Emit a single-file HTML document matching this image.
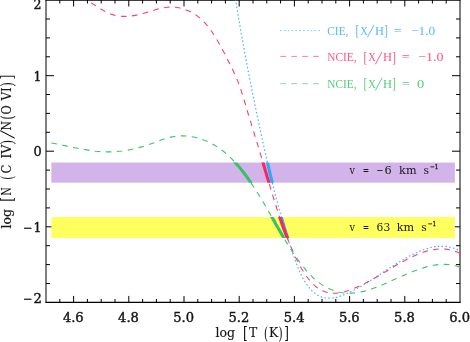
<!DOCTYPE html>
<html><head><meta charset="utf-8"><title>log N(C IV)/N(O VI) vs log T</title>
<style>
html,body{margin:0;padding:0;background:#fff;}
body{width:470px;height:342px;overflow:hidden;}
svg{display:block;}
text{font-family:"DejaVu Serif","Liberation Serif",serif;font-size:12.4px;}
.tk text{stroke:#161616;stroke-width:0.4px;}
.lb text{font-size:12.6px;stroke:#161616;stroke-width:0.15px;}
.lg text{font-family:"Liberation Serif","DejaVu Serif",serif;font-size:12.8px;}
.bd text{font-size:11.2px;}
</style></head><body>
<svg width="470" height="342" viewBox="0 0 470 342" fill="#161616">
<defs>
<clipPath id="plot"><rect x="46" y="0" width="414" height="302"/></clipPath>
<clipPath id="bands"><rect x="46" y="162.55" width="414" height="20.15"/><rect x="46" y="217.05" width="414" height="20.9"/></clipPath>
<path id="cb" d="M235.4,-1.0 L235.9,2.0 L236.4,4.9 L236.9,7.9 L237.4,10.8 L237.9,13.8 L238.4,16.7 L238.9,19.7 L239.4,22.7 L239.9,25.6 L240.4,28.6 L240.9,31.5 L241.4,34.5 L242.0,37.4 L242.5,40.4 L243.0,43.3 L243.6,46.3 L244.1,49.2 L244.6,52.2 L245.2,55.1 L245.7,58.0 L246.3,61.0 L246.8,63.9 L247.4,66.9 L248.0,69.8 L248.5,72.8 L249.1,75.7 L249.7,78.6 L250.3,81.6 L250.8,84.5 L251.4,87.4 L252.0,90.4 L252.6,93.3 L253.2,96.3 L253.8,99.2 L254.4,102.1 L255.0,105.1 L255.6,108.0 L256.2,110.9 L256.8,113.9 L257.4,116.8 L258.1,119.7 L258.7,122.6 L259.3,125.6 L259.9,128.5 L260.6,131.4 L261.2,134.4 L261.9,137.3 L262.5,140.2 L263.1,143.1 L263.8,146.1 L264.4,149.0 L265.1,151.9 L265.8,154.8 L266.4,157.8 L267.1,160.7 L267.8,163.6 L268.4,166.5 L269.1,169.5 L269.8,172.4 L270.5,175.3 L271.2,178.2 L271.9,181.1 L272.6,184.0 L273.3,187.0 L274.1,189.9 L274.8,192.8 L275.5,195.7 L276.3,198.6 L277.1,201.5 L277.8,204.4 L278.6,207.3 L279.4,210.2 L280.2,213.0 L281.0,215.9 L281.8,218.8 L282.6,221.7 L283.5,224.5 L284.3,227.4 L285.2,230.3 L286.1,233.1 L287.0,236.0 L287.9,238.8 L288.8,241.7 L289.7,244.5 L290.7,247.4 L291.6,250.2 L292.6,253.0 L293.6,255.9 L294.6,258.7 L295.6,261.5 L296.6,264.3 L297.7,267.1 L298.9,269.8 L300.1,272.6 L301.4,275.3 L302.8,278.0 L304.3,280.7 L305.9,283.3 L307.7,285.8 L309.6,288.2 L311.7,290.5 L313.9,292.5 L316.2,294.3 L318.7,295.8 L321.3,296.9 L324.1,297.7 L326.9,298.1 L329.8,298.2 L332.8,298.0 L335.7,297.5 L338.6,296.7 L341.5,295.7 L344.3,294.6 L347.1,293.4 L349.9,292.1 L352.6,290.8 L355.3,289.4 L358.0,287.9 L360.6,286.5 L363.2,285.0 L365.7,283.4 L368.3,281.9 L370.8,280.3 L373.3,278.7 L375.8,277.1 L378.3,275.5 L380.8,273.8 L383.3,272.2 L385.7,270.5 L388.2,268.9 L390.7,267.3 L393.2,265.7 L395.8,264.1 L398.3,262.5 L400.9,261.0 L403.5,259.4 L406.1,258.0 L408.7,256.5 L411.4,255.1 L414.1,253.8 L416.9,252.5 L419.7,251.3 L422.5,250.2 L425.3,249.1 L428.1,248.3 L431.0,247.5 L433.9,246.9 L436.8,246.5 L439.7,246.3 L442.6,246.3 L445.6,246.4 L448.5,246.9 L451.4,247.5 L454.4,248.4 L457.3,249.6 L460.2,251.1"/>
<path id="cr" d="M86.1,-1.0 L88.4,0.7 L90.8,2.4 L93.2,4.1 L95.7,5.8 L98.3,7.5 L100.8,9.1 L103.5,10.6 L106.2,12.0 L108.9,13.3 L111.7,14.4 L114.5,15.2 L117.3,15.9 L120.2,16.3 L123.1,16.4 L126.1,16.4 L129.0,16.3 L132.0,15.9 L135.0,15.4 L137.9,14.8 L140.9,14.1 L143.8,13.3 L146.8,12.4 L149.7,11.5 L152.6,10.6 L155.5,9.7 L158.4,8.9 L161.3,8.2 L164.2,7.7 L167.2,7.3 L170.1,7.1 L173.0,7.1 L176.0,7.3 L178.9,7.8 L181.8,8.5 L184.6,9.3 L187.4,10.4 L190.2,11.6 L192.8,13.0 L195.3,14.6 L197.8,16.4 L200.1,18.2 L202.3,20.2 L204.4,22.4 L206.4,24.6 L208.3,26.9 L210.1,29.3 L211.9,31.8 L213.5,34.3 L215.2,36.8 L216.7,39.4 L218.2,42.0 L219.7,44.6 L221.2,47.2 L222.6,49.9 L224.0,52.5 L225.4,55.1 L226.7,57.8 L228.0,60.4 L229.4,63.1 L230.7,65.7 L232.0,68.4 L233.3,71.1 L234.6,73.9 L235.8,76.6 L237.0,79.4 L238.2,82.1 L239.2,84.9 L240.2,87.8 L241.2,90.6 L242.1,93.4 L243.0,96.3 L243.9,99.2 L244.7,102.0 L245.6,104.9 L246.4,107.8 L247.3,110.6 L248.1,113.5 L249.0,116.3 L249.9,119.2 L250.8,122.1 L251.6,124.9 L252.5,127.8 L253.4,130.6 L254.2,133.5 L255.1,136.3 L256.0,139.2 L256.9,142.1 L257.7,144.9 L258.6,147.8 L259.5,150.7 L260.3,153.5 L261.2,156.4 L262.0,159.3 L262.9,162.1 L263.7,165.0 L264.6,167.9 L265.4,170.7 L266.3,173.6 L267.1,176.5 L268.0,179.4 L268.8,182.3 L269.7,185.1 L270.5,188.0 L271.4,190.9 L272.3,193.7 L273.1,196.6 L274.0,199.5 L274.9,202.3 L275.8,205.2 L276.7,208.0 L277.6,210.9 L278.6,213.7 L279.5,216.6 L280.5,219.4 L281.4,222.2 L282.4,225.1 L283.4,227.9 L284.5,230.7 L285.5,233.5 L286.6,236.2 L287.7,239.0 L288.8,241.8 L289.9,244.5 L291.1,247.3 L292.3,250.0 L293.5,252.8 L294.7,255.5 L296.0,258.2 L297.3,260.8 L298.7,263.5 L300.1,266.1 L301.6,268.7 L303.2,271.3 L304.8,273.8 L306.5,276.3 L308.3,278.7 L310.2,281.0 L312.2,283.3 L314.4,285.4 L316.7,287.3 L319.2,289.0 L321.8,290.5 L324.5,291.6 L327.3,292.5 L330.2,293.1 L333.1,293.3 L336.0,293.2 L338.9,292.9 L341.8,292.4 L344.8,291.7 L347.7,290.8 L350.6,289.8 L353.4,288.7 L356.2,287.5 L359.0,286.3 L361.7,285.0 L364.4,283.7 L367.1,282.3 L369.7,280.9 L372.3,279.4 L374.9,278.0 L377.5,276.5 L380.0,275.0 L382.6,273.5 L385.1,271.9 L387.7,270.4 L390.2,268.9 L392.8,267.4 L395.3,265.8 L397.9,264.3 L400.5,262.9 L403.1,261.4 L405.8,260.0 L408.5,258.6 L411.2,257.3 L413.9,256.0 L416.7,254.7 L419.5,253.6 L422.3,252.6 L425.1,251.6 L428.0,250.8 L430.9,250.1 L433.8,249.6 L436.7,249.2 L439.6,249.0 L442.6,249.0 L445.5,249.1 L448.4,249.5 L451.4,250.1 L454.3,251.0 L457.3,252.1 L460.2,253.5"/>
<path id="cg" d="M51.4,143.0 L54.3,143.5 L57.1,144.1 L60.0,144.7 L62.9,145.3 L65.9,145.9 L68.8,146.5 L71.7,147.1 L74.7,147.7 L77.7,148.3 L80.6,148.9 L83.6,149.4 L86.6,149.9 L89.6,150.4 L92.5,150.8 L95.5,151.2 L98.5,151.5 L101.5,151.7 L104.5,151.8 L107.5,151.9 L110.4,151.9 L113.4,151.8 L116.4,151.6 L119.3,151.3 L122.3,151.0 L125.3,150.6 L128.2,150.1 L131.1,149.5 L134.0,148.9 L136.9,148.2 L139.8,147.4 L142.7,146.6 L145.6,145.7 L148.4,144.7 L151.3,143.7 L154.1,142.7 L156.9,141.6 L159.7,140.6 L162.5,139.5 L165.4,138.6 L168.3,137.8 L171.1,137.1 L174.1,136.5 L177.0,136.1 L180.0,135.9 L183.0,135.8 L186.0,136.0 L189.0,136.3 L192.0,136.7 L195.0,137.3 L197.9,138.0 L200.8,138.9 L203.6,139.9 L206.4,141.0 L209.1,142.3 L211.7,143.6 L214.3,145.1 L216.8,146.6 L219.3,148.3 L221.6,150.0 L224.0,151.8 L226.2,153.7 L228.5,155.7 L230.6,157.7 L232.7,159.8 L234.8,162.0 L236.8,164.3 L238.8,166.5 L240.7,168.9 L242.6,171.2 L244.5,173.7 L246.3,176.1 L248.1,178.6 L249.8,181.1 L251.5,183.6 L253.2,186.2 L254.9,188.7 L256.5,191.3 L258.1,193.8 L259.7,196.4 L261.2,198.9 L262.8,201.5 L264.3,204.0 L265.8,206.5 L267.3,209.1 L268.7,211.6 L270.2,214.1 L271.7,216.7 L273.1,219.2 L274.6,221.8 L276.0,224.4 L277.5,227.0 L279.0,229.6 L280.5,232.2 L282.0,234.8 L283.5,237.4 L285.0,240.0 L286.6,242.6 L288.2,245.1 L289.8,247.7 L291.4,250.2 L293.0,252.7 L294.7,255.1 L296.4,257.6 L298.2,260.0 L299.9,262.5 L301.7,264.9 L303.6,267.2 L305.5,269.6 L307.5,271.8 L309.5,274.1 L311.6,276.2 L313.7,278.3 L316.0,280.3 L318.3,282.2 L320.7,283.9 L323.2,285.6 L325.8,287.1 L328.5,288.4 L331.2,289.6 L334.0,290.7 L336.8,291.6 L339.7,292.3 L342.6,292.8 L345.6,293.1 L348.5,293.2 L351.5,293.1 L354.5,292.9 L357.5,292.5 L360.5,292.0 L363.4,291.4 L366.3,290.6 L369.2,289.8 L372.1,288.8 L374.9,287.8 L377.7,286.8 L380.5,285.6 L383.2,284.5 L386.0,283.3 L388.7,282.0 L391.4,280.8 L394.1,279.6 L396.9,278.3 L399.6,277.1 L402.3,275.9 L405.1,274.7 L407.8,273.6 L410.6,272.4 L413.4,271.3 L416.2,270.3 L419.0,269.2 L421.9,268.3 L424.8,267.4 L427.6,266.6 L430.6,265.9 L433.5,265.3 L436.4,264.9 L439.3,264.5 L442.3,264.4 L445.3,264.4 L448.2,264.5 L451.2,264.9 L454.2,265.4 L457.1,266.2 L460.1,267.1"/>
</defs>
<rect width="470" height="342" fill="#fff"/>
<g fill="none" stroke="#000">
<path d="M46,0 V302.9 M460,0 V302.9" stroke-width="1"/>
<path d="M45.5,0.1 H460.5 M45.5,302.35 H460.5" stroke-width="1.25"/>
<path d="M59.8,302.35 v-3.4 M59.8,0.1 v3.4 M73.6,302.35 v-6.4 M73.6,0.1 v6.4 M87.4,302.35 v-3.4 M87.4,0.1 v3.4 M101.2,302.35 v-3.4 M101.2,0.1 v3.4 M115.0,302.35 v-3.4 M115.0,0.1 v3.4 M128.8,302.35 v-6.4 M128.8,0.1 v6.4 M142.6,302.35 v-3.4 M142.6,0.1 v3.4 M156.4,302.35 v-3.4 M156.4,0.1 v3.4 M170.2,302.35 v-3.4 M170.2,0.1 v3.4 M184.0,302.35 v-6.4 M184.0,0.1 v6.4 M197.8,302.35 v-3.4 M197.8,0.1 v3.4 M211.6,302.35 v-3.4 M211.6,0.1 v3.4 M225.4,302.35 v-3.4 M225.4,0.1 v3.4 M239.2,302.35 v-6.4 M239.2,0.1 v6.4 M253.0,302.35 v-3.4 M253.0,0.1 v3.4 M266.8,302.35 v-3.4 M266.8,0.1 v3.4 M280.6,302.35 v-3.4 M280.6,0.1 v3.4 M294.4,302.35 v-6.4 M294.4,0.1 v6.4 M308.2,302.35 v-3.4 M308.2,0.1 v3.4 M322.0,302.35 v-3.4 M322.0,0.1 v3.4 M335.8,302.35 v-3.4 M335.8,0.1 v3.4 M349.6,302.35 v-6.4 M349.6,0.1 v6.4 M363.4,302.35 v-3.4 M363.4,0.1 v3.4 M377.2,302.35 v-3.4 M377.2,0.1 v3.4 M391.0,302.35 v-3.4 M391.0,0.1 v3.4 M404.8,302.35 v-6.4 M404.8,0.1 v6.4 M418.6,302.35 v-3.4 M418.6,0.1 v3.4 M432.4,302.35 v-3.4 M432.4,0.1 v3.4 M446.2,302.35 v-3.4 M446.2,0.1 v3.4 M46.0,19.0 h4 M460.0,19.0 h-4 M46.0,37.9 h4 M460.0,37.9 h-4 M46.0,56.8 h4 M460.0,56.8 h-4 M46.0,75.7 h8 M460.0,75.7 h-8 M46.0,94.5 h4 M460.0,94.5 h-4 M46.0,113.4 h4 M460.0,113.4 h-4 M46.0,132.3 h4 M460.0,132.3 h-4 M46.0,151.2 h8 M460.0,151.2 h-8 M46.0,170.1 h4 M460.0,170.1 h-4 M46.0,189.0 h4 M460.0,189.0 h-4 M46.0,207.9 h4 M460.0,207.9 h-4 M46.0,226.8 h8 M460.0,226.8 h-8 M46.0,245.7 h4 M460.0,245.7 h-4 M46.0,264.6 h4 M460.0,264.6 h-4 M46.0,283.5 h4 M460.0,283.5 h-4" stroke-width="1"/>
</g>
<rect x="51.35" y="162.55" width="403.5" height="20.15" fill="#d3b4ea"/>
<rect x="51.35" y="217.05" width="403.5" height="20.9" fill="#ffff5e"/>
<g clip-path="url(#plot)" fill="none">
<use href="#cb" stroke="#3fb0ff" stroke-width="1.15" stroke-dasharray="1.5 2.33"/>
<use href="#cr" stroke="#ff3b6e" stroke-width="1.1" stroke-dasharray="5.65 5.38" stroke-dashoffset="4.75"/>
<use href="#cg" stroke="#3fc468" stroke-width="1.1" stroke-dasharray="5.65 5.38"/>
</g>
<g clip-path="url(#bands)" fill="none" stroke-width="3.1">
<use href="#cb" stroke="#2fa6fb"/>
<use href="#cr" stroke="#f5285f"/>
<use href="#cg" stroke="#35c263"/>
</g>
<g class="tk"><text x="62.9" y="321.5" textLength="20.8" lengthAdjust="spacingAndGlyphs">4.6</text><text x="118.1" y="321.5" textLength="20.8" lengthAdjust="spacingAndGlyphs">4.8</text><text x="173.3" y="321.5" textLength="20.8" lengthAdjust="spacingAndGlyphs">5.0</text><text x="228.5" y="321.5" textLength="20.8" lengthAdjust="spacingAndGlyphs">5.2</text><text x="283.7" y="321.5" textLength="20.8" lengthAdjust="spacingAndGlyphs">5.4</text><text x="338.9" y="321.5" textLength="20.8" lengthAdjust="spacingAndGlyphs">5.6</text><text x="394.1" y="321.5" textLength="20.8" lengthAdjust="spacingAndGlyphs">5.8</text><text x="449.3" y="321.5" textLength="20.8" lengthAdjust="spacingAndGlyphs">6.0</text><text x="33.6" y="9.1" textLength="8.0" lengthAdjust="spacingAndGlyphs">2</text><text x="33.6" y="80.8" textLength="8.0" lengthAdjust="spacingAndGlyphs">1</text><text x="33.4" y="156.3" textLength="8.2" lengthAdjust="spacingAndGlyphs">0</text><text x="22.9" y="231.7" textLength="9.4" lengthAdjust="spacingAndGlyphs">−</text><text x="33.6" y="231.7" textLength="8.0" lengthAdjust="spacingAndGlyphs">1</text><text x="22.9" y="302.9" textLength="9.4" lengthAdjust="spacingAndGlyphs">−</text><text x="33.4" y="302.9" textLength="8.4" lengthAdjust="spacingAndGlyphs">2</text></g>
<g class="lb"><text x="215.5" y="337.3" textLength="19.5" lengthAdjust="spacingAndGlyphs">log</text><text x="243.0" y="338.8" textLength="4.7" lengthAdjust="spacingAndGlyphs" style="font-size:16.6px;stroke-width:0.05px">[</text><text x="249.0" y="337.3" textLength="8.2" lengthAdjust="spacingAndGlyphs">T</text><text x="264.0" y="338.8" textLength="4.0" lengthAdjust="spacingAndGlyphs" style="font-size:16.6px;stroke-width:0.05px">(</text><text x="269.1" y="337.3" textLength="9.2" lengthAdjust="spacingAndGlyphs">K</text><text x="278.6" y="338.8" textLength="4.2" lengthAdjust="spacingAndGlyphs" style="font-size:16.6px;stroke-width:0.05px">)</text><text x="284.2" y="338.8" textLength="4.7" lengthAdjust="spacingAndGlyphs" style="font-size:16.6px;stroke-width:0.05px">]</text><g transform="translate(11.2,228.5) rotate(-90)"><text x="0" y="0" textLength="19.5" lengthAdjust="spacingAndGlyphs">log</text><text x="26.8" y="1.5" textLength="4.8" lengthAdjust="spacingAndGlyphs" style="font-size:16.6px;stroke-width:0.05px">[</text><text x="33.0" y="0" textLength="8.2" lengthAdjust="spacingAndGlyphs">N</text><text x="48.8" y="1.5" textLength="4.0" lengthAdjust="spacingAndGlyphs" style="font-size:16.6px;stroke-width:0.05px">(</text><text x="55.0" y="0" textLength="9.0" lengthAdjust="spacingAndGlyphs">C</text><text x="69.9" y="0" textLength="14.1" lengthAdjust="spacingAndGlyphs">IV</text><text x="84.0" y="1.5" textLength="4.8" lengthAdjust="spacingAndGlyphs" style="font-size:16.6px;stroke-width:0.05px">)</text><text x="90" y="1.9" transform="translate(90,1.9) skewX(-12) translate(-90,-1.9)" style="font-size:17.5px;stroke:none">/</text><text x="98.1" y="0" textLength="9.6" lengthAdjust="spacingAndGlyphs">N</text><text x="108.8" y="1.5" textLength="4.6" lengthAdjust="spacingAndGlyphs" style="font-size:16.6px;stroke-width:0.05px">(</text><text x="113.9" y="0" textLength="9.2" lengthAdjust="spacingAndGlyphs">O</text><text x="127.9" y="0" textLength="13.3" lengthAdjust="spacingAndGlyphs">VI</text><text x="141.8" y="1.5" textLength="4.8" lengthAdjust="spacingAndGlyphs" style="font-size:16.6px;stroke-width:0.05px">)</text><text x="149.0" y="1.5" textLength="4.9" lengthAdjust="spacingAndGlyphs" style="font-size:16.6px;stroke-width:0.05px">]</text></g></g>
<g fill="none" stroke-width="1">
<path d="M280,30.6 H321" stroke="#7fcbff" stroke-dasharray="1.7 2.13"/>
<path d="M280.4,56.4 H319.5" stroke="#ff7a9c" stroke-dasharray="5.7 5.2"/>
<path d="M280.4,83.7 H319.5" stroke="#7fd99a" stroke-dasharray="5.7 5.2"/>
</g>
<g class="lg"><g style="fill:#55b9ff"><text x="327.3" y="34.5" textLength="21.1" lengthAdjust="spacingAndGlyphs">CIE,</text><text x="355.5" y="35.0" textLength="3.7" lengthAdjust="spacingAndGlyphs" style="font-size:15.4px">[</text><text x="360.2" y="34.5" textLength="7.6" lengthAdjust="spacingAndGlyphs">X</text><text x="367.0" y="37.2" transform="translate(367.0,37.2) skewX(-11) translate(-367.0,-37.2)" style="font-size:18.6px">/</text><text x="374.9" y="34.5" textLength="9.0" lengthAdjust="spacingAndGlyphs">H</text><text x="384.3" y="35.0" textLength="3.7" lengthAdjust="spacingAndGlyphs" style="font-size:15.4px">]</text><text x="393.8" y="34.5" textLength="7.9" lengthAdjust="spacingAndGlyphs">=</text><text x="411" y="34.5" textLength="24.2" lengthAdjust="spacingAndGlyphs">−1.0</text></g><g style="fill:#ff5581"><text x="327.3" y="61" textLength="29.3" lengthAdjust="spacingAndGlyphs">NCIE,</text><text x="363.5" y="61.5" textLength="3.7" lengthAdjust="spacingAndGlyphs" style="font-size:15.4px">[</text><text x="368.2" y="61" textLength="7.6" lengthAdjust="spacingAndGlyphs">X</text><text x="375.0" y="63.7" transform="translate(375.0,63.7) skewX(-11) translate(-375.0,-63.7)" style="font-size:18.6px">/</text><text x="382.9" y="61" textLength="9.0" lengthAdjust="spacingAndGlyphs">H</text><text x="392.3" y="61.5" textLength="3.7" lengthAdjust="spacingAndGlyphs" style="font-size:15.4px">]</text><text x="401.8" y="61" textLength="7.9" lengthAdjust="spacingAndGlyphs">=</text><text x="418" y="61" textLength="25.5" lengthAdjust="spacingAndGlyphs">−1.0</text></g><g style="fill:#55cc7b"><text x="327.3" y="87.6" textLength="29.3" lengthAdjust="spacingAndGlyphs">NCIE,</text><text x="363.5" y="88.1" textLength="3.7" lengthAdjust="spacingAndGlyphs" style="font-size:15.4px">[</text><text x="368.2" y="87.6" textLength="7.6" lengthAdjust="spacingAndGlyphs">X</text><text x="375.0" y="90.3" transform="translate(375.0,90.3) skewX(-11) translate(-375.0,-90.3)" style="font-size:18.6px">/</text><text x="382.9" y="87.6" textLength="9.0" lengthAdjust="spacingAndGlyphs">H</text><text x="392.3" y="88.1" textLength="3.7" lengthAdjust="spacingAndGlyphs" style="font-size:15.4px">]</text><text x="401.8" y="87.6" textLength="7.9" lengthAdjust="spacingAndGlyphs">=</text><text x="417" y="87.6" textLength="7.2" lengthAdjust="spacingAndGlyphs">0</text></g></g>
<g class="bd"><text x="349.4" y="174.2" textLength="5.5" lengthAdjust="spacingAndGlyphs">v</text><text x="362.8" y="174.2" textLength="6.4" lengthAdjust="spacingAndGlyphs">=</text><text x="376.6" y="174.2" textLength="7.0" lengthAdjust="spacingAndGlyphs">−</text><text x="384.6" y="174.2" textLength="7.2" lengthAdjust="spacingAndGlyphs">6</text><text x="399.1" y="174.2" textLength="17.4" lengthAdjust="spacingAndGlyphs">km</text><text x="423.4" y="174.2" textLength="5.5" lengthAdjust="spacingAndGlyphs">s</text><text x="430" y="169.1" textLength="8.5" lengthAdjust="spacingAndGlyphs" style="font-size:6.9px;stroke:#161616;stroke-width:0.3px">−1</text><text x="349.4" y="231" textLength="5.5" lengthAdjust="spacingAndGlyphs">v</text><text x="362.8" y="231" textLength="6.4" lengthAdjust="spacingAndGlyphs">=</text><text x="376.6" y="231" textLength="13.6" lengthAdjust="spacingAndGlyphs">63</text><text x="396.8" y="231" textLength="17.4" lengthAdjust="spacingAndGlyphs">km</text><text x="421.2" y="231" textLength="5.5" lengthAdjust="spacingAndGlyphs">s</text><text x="427.8" y="226.3" textLength="8.5" lengthAdjust="spacingAndGlyphs" style="font-size:6.9px;stroke:#161616;stroke-width:0.3px">−1</text></g>
</svg>
</body></html>
